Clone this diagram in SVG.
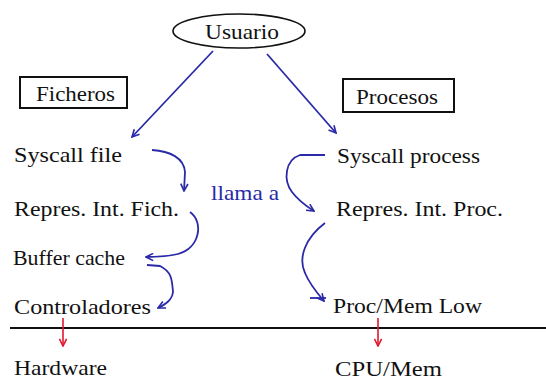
<svg xmlns="http://www.w3.org/2000/svg" width="546" height="382" viewBox="0 0 546 382">
<style>
.t{font-family:"Liberation Serif","Times New Roman",serif;font-size:21px;fill:#111}
.b{fill:#2a2aa8}
.c{fill:none;stroke:#2a2aa8;stroke-width:1.8}
.r{fill:none;stroke:#e01830;stroke-width:1.6}
.box{fill:#fff;stroke:#111;stroke-width:2}
</style>
<defs>
<marker id="ab" viewBox="0 0 10 10" refX="9" refY="5" markerWidth="9" markerHeight="9" markerUnits="userSpaceOnUse" orient="auto">
<path d="M1,1 L9,5 L1,9" fill="none" stroke="#2a2aa8" stroke-width="1.8"/>
</marker>
<marker id="ar" viewBox="0 0 10 10" refX="9" refY="5" markerWidth="9" markerHeight="9" markerUnits="userSpaceOnUse" orient="auto">
<path d="M1,1 L9,5 L1,9" fill="none" stroke="#e01830" stroke-width="1.8"/>
</marker>
</defs>
<rect width="546" height="382" fill="#fff"/>
<g id="usuario">
<ellipse cx="239" cy="31" rx="66" ry="17" fill="#fff" stroke="#111" stroke-width="1.6"/>
<text class="t" x="205" y="39" textLength="74" lengthAdjust="spacingAndGlyphs">Usuario</text>
</g>
<g id="ficheros">
<rect class="box" x="20" y="77" width="107" height="31"/>
<text class="t" x="36" y="101" textLength="79" lengthAdjust="spacingAndGlyphs">Ficheros</text>
</g>
<g id="procesos">
<rect class="box" x="343" y="79" width="111" height="33"/>
<text class="t" x="356" y="104" textLength="82" lengthAdjust="spacingAndGlyphs">Procesos</text>
</g>
<g id="syscall-file"><text class="t" x="14" y="162" textLength="108" lengthAdjust="spacingAndGlyphs">Syscall file</text></g>
<g id="syscall-process"><text class="t" x="337" y="163" textLength="143" lengthAdjust="spacingAndGlyphs">Syscall process</text></g>
<g id="llama-a"><text class="t b" x="211" y="200" textLength="68" lengthAdjust="spacingAndGlyphs">llama a</text></g>
<g id="repres-fich"><text class="t" x="14" y="216" textLength="165" lengthAdjust="spacingAndGlyphs">Repres. Int. Fich.</text></g>
<g id="repres-proc"><text class="t" x="336" y="216" textLength="167" lengthAdjust="spacingAndGlyphs">Repres. Int. Proc.</text></g>
<g id="buffer-cache"><text class="t" x="13" y="265" textLength="112" lengthAdjust="spacingAndGlyphs">Buffer cache</text></g>
<g id="controladores"><text class="t" x="14" y="314" textLength="137" lengthAdjust="spacingAndGlyphs">Controladores</text></g>
<g id="proc-mem-low"><text class="t" x="333" y="313" textLength="149" lengthAdjust="spacingAndGlyphs">Proc/Mem Low</text></g>
<g id="hardware"><text class="t" x="14" y="375" textLength="93" lengthAdjust="spacingAndGlyphs">Hardware</text></g>
<g id="cpu-mem"><text class="t" x="335" y="376" textLength="107" lengthAdjust="spacingAndGlyphs">CPU/Mem</text></g>
<g id="connectors">
<line x1="213" y1="51" x2="132" y2="137" class="c" marker-end="url(#ab)"/>
<line x1="267" y1="54" x2="336" y2="133" class="c" marker-end="url(#ab)"/>
<path class="c" d="M152,150 C170,151 184,158 185,172 L184,191" marker-end="url(#ab)"/>
<path class="c" d="M325,155 L300,155 C285,160 283,180 292,192 C298,200 306,206 314,211" marker-end="url(#ab)"/>
<path class="c" d="M190,212 C204,222 200,248 178,254 C166,257 156,257 146,257" marker-end="url(#ab)"/>
<path class="c" d="M147,265 L160,266 C172,272 172,280 173,292 C172,300 166,304 158,308" marker-end="url(#ab)"/>
<path class="c" d="M325,223 C305,238 298,258 305,273 C310,285 318,294 324,301" marker-end="url(#ab)"/>
<line x1="310" y1="298" x2="326" y2="298" class="c"/>
<line x1="10" y1="328" x2="546" y2="328" stroke="#111" stroke-width="2"/>
<line x1="63" y1="318" x2="63" y2="346" class="r" marker-end="url(#ar)"/>
<line x1="378" y1="318" x2="378" y2="346" class="r" marker-end="url(#ar)"/>
</g>
</svg>
